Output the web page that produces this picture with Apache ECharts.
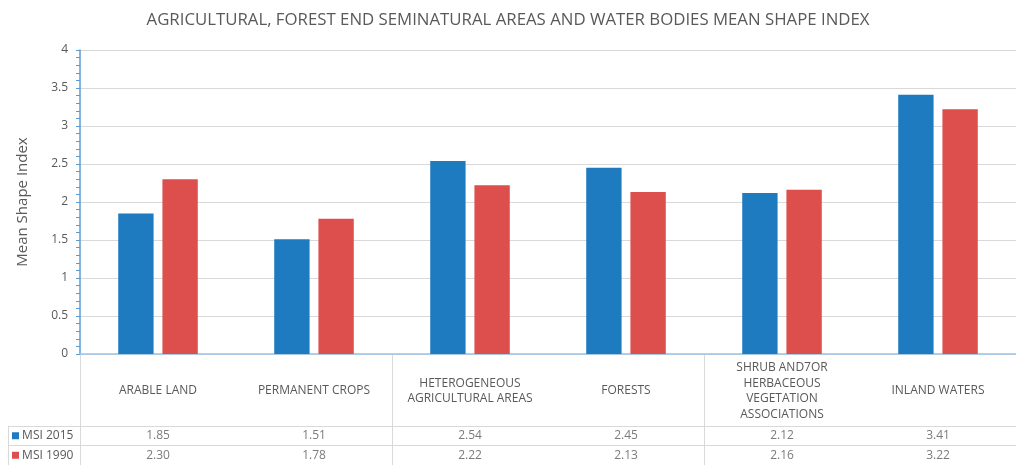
<!DOCTYPE html>
<html>
<head>
<meta charset="utf-8">
<script src="https://cdn.jsdelivr.net/npm/echarts@6/dist/echarts.min.js"></script>
<style>html,body{margin:0;padding:0;background:#fff}#c{width:1016px;height:465px}</style>
</head>
<body>
<div id="c"></div>
<script>
const titleText = 'AGRICULTURAL, FOREST END SEMINATURAL AREAS AND WATER BODIES MEAN SHAPE INDEX';
const categories = ['ARABLE LAND', 'PERMANENT CROPS', 'HETEROGENEOUS\nAGRICULTURAL AREAS', 'FORESTS', 'SHRUB AND7OR\nHERBACEOUS\nVEGETATION\nASSOCIATIONS', 'INLAND WATERS'];
const seriesNames = ['MSI 2015', 'MSI 1990'];
const msi2015 = [1.85, 1.51, 2.54, 2.45, 2.12, 3.41];
const msi1990 = [2.30, 1.78, 2.22, 2.13, 2.16, 3.22];
const colors = ['#1F7BC0', '#DC4F4C'];

const FONT = 'Open Sans';
const TXT = '#595959';
const LINE = '#d9d9d9';

const tableData = [];
[msi2015, msi1990].forEach((arr, r) => arr.forEach((v, i) => tableData.push([categories[i], seriesNames[r], v])));

const chart = echarts.init(document.getElementById('c'));
chart.setOption({
  animation: false,
  textStyle: { fontFamily: FONT },
  title: {
    text: titleText, left: 'center', top: 7,
    textStyle: { fontFamily: FONT, fontSize: 16.8, fontWeight: 'normal', color: TXT }
  },
  grid: [
    { left: 80, top: 50, width: 950, height: 304 },
    { left: 80, top: 354, width: 950, height: 112 },
    { left: 8, top: 426, width: 1022, height: 40 },
    { left: 80, top: 426, width: 950, height: 40 }
  ],
  xAxis: [
    { gridIndex: 0, type: 'category', data: categories,
      axisLine: { lineStyle: { color: '#9DC3E6', width: 1.5 } },
      axisTick: { show: false },
      axisLabel: { interval: 0, margin: 37, verticalAlign: 'middle', color: TXT, fontSize: 12, lineHeight: 15.6, fontFamily: FONT }
    },
    { gridIndex: 1, type: 'category', data: categories,
      axisLine: { show: false }, axisTick: { show: false }, axisLabel: { show: false },
      splitLine: { show: true, lineStyle: { color: LINE } }
    },
    { gridIndex: 2, type: 'value', show: false },
    { gridIndex: 3, type: 'category', data: categories, show: false }
  ],
  yAxis: [
    { gridIndex: 0, type: 'value', min: 0, max: 4, interval: 0.5,
      name: 'Mean Shape Index', nameLocation: 'middle', nameGap: 50, nameRotate: 90,
      nameTextStyle: { fontFamily: FONT, fontSize: 15, color: TXT },
      axisLine: { show: true, lineStyle: { color: '#5B9BD5', width: 1.5 } },
      axisTick: { show: true, length: 4, lineStyle: { color: '#5B9BD5' } },
      minorTick: { show: true, splitNumber: 5, length: 4, lineStyle: { color: '#5B9BD5' } },
      axisLabel: { color: TXT, fontSize: 12, margin: 12, fontFamily: FONT },
      splitLine: { lineStyle: { color: LINE } }
    },
    { gridIndex: 1, type: 'value', show: false },
    { gridIndex: 2, type: 'category', data: seriesNames, inverse: true,
      axisLine: { show: true, lineStyle: { color: LINE } }, axisTick: { show: false },
      axisLabel: { inside: true, margin: 4, fontSize: 12, color: TXT, fontFamily: FONT,
        formatter: (v) => '{' + (v === seriesNames[0] ? 'a' : 'b') + '|} ' + v,
        rich: {
          a: { width: 7, height: 7, backgroundColor: colors[0] },
          b: { width: 7, height: 7, backgroundColor: colors[1] }
        }
      },
      splitLine: { show: true, lineStyle: { color: LINE } }
    },
    { gridIndex: 3, type: 'category', data: seriesNames, inverse: true, show: false }
  ],
  series: [
    { name: seriesNames[0], type: 'bar', xAxisIndex: 0, yAxisIndex: 0, data: msi2015,
      barGap: '25%', barCategoryGap: '49%', itemStyle: { color: colors[0] } },
    { name: seriesNames[1], type: 'bar', xAxisIndex: 0, yAxisIndex: 0, data: msi1990,
      itemStyle: { color: colors[1] } },
    { type: 'scatter', xAxisIndex: 3, yAxisIndex: 3, data: tableData, symbolSize: 1,
      itemStyle: { color: 'rgba(0,0,0,0)' },
      label: { show: true, position: 'inside', color: TXT, fontSize: 12, fontFamily: FONT,
        formatter: (p) => p.value[2].toFixed(2) } }
  ]
});
</script>
</body>
</html>
